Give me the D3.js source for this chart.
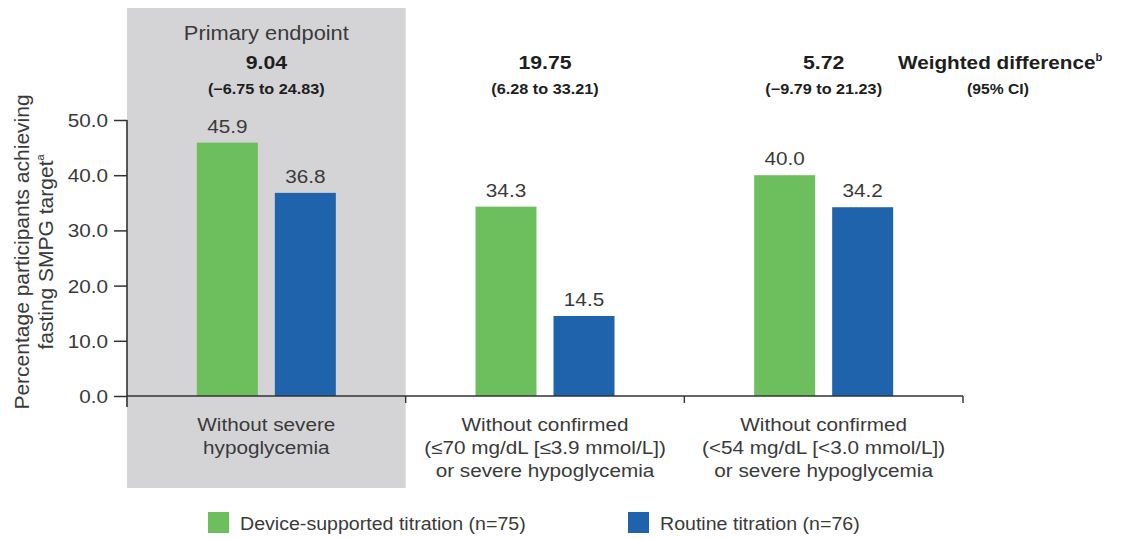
<!DOCTYPE html>
<html>
<head>
<meta charset="utf-8">
<script src="https://cdn.jsdelivr.net/npm/d3@7"></script>
<style>
  html, body { margin: 0; padding: 0; background: #fff; }
  svg { display: block; font-family: Arial, "Liberation Sans", Helvetica, sans-serif; }
</style>
</head>
<body>
<svg id="chart" width="1121" height="539"></svg>
<script>
// ---- data ----
const categories = [
  ["Without severe", "hypoglycemia"],
  ["Without confirmed", "(\u226470 mg/dL [\u22643.9 mmol/L])", "or severe hypoglycemia"],
  ["Without confirmed", "(<54 mg/dL [<3.0 mmol/L])", "or severe hypoglycemia"]
];
const categoryKeys = ["severe", "le70", "lt54"];
const seriesNames = ["Device-supported titration (n=75)", "Routine titration (n=76)"];
const deviceValues  = [45.9, 34.3, 40.0];
const routineValues = [36.8, 14.5, 34.2];
const weightedDiff  = ["9.04", "19.75", "5.72"];
const confInterval  = ["(\u22126.75 to 24.83)", "(6.28 to 33.21)", "(\u22129.79 to 21.23)"];
const yTicks = [0, 10, 20, 30, 40, 50];
const highlightIndex = 0;
const highlightTitle = "Primary endpoint";

// ---- setup ----
const colors = ["#6cbf5c", "#1f63ad"];
const svg = d3.select("#chart");
const sx = 1.12; // horizontal widening of the typeface

function label(g, x, y, str, opts = {}) {
  const t = g.append("text")
    .attr("transform", `translate(${x},${y}) scale(${opts.noStretch ? 1 : sx},1)`)
    .attr("text-anchor", opts.anchor || "middle")
    .attr("font-size", opts.size || 18)
    .attr("font-weight", opts.bold ? "bold" : "normal")
    .attr("fill", opts.fill || (opts.bold ? "#1e1e1e" : "#3a3a3a"))
    .text(str);
  return t;
}

const y = d3.scaleLinear().domain([0, 50]).range([396, 120]);
const x0 = d3.scaleBand().domain(categoryKeys).range([127, 963]).padding(0);
const bw = x0.bandwidth();
const x1 = d3.scaleBand().domain([0, 1]).range([bw / 2 - 69.5, bw / 2 + 69.5]).paddingInner(0.218);

// highlighted panel behind the primary endpoint
svg.append("rect")
  .attr("x", x0(categoryKeys[highlightIndex]))
  .attr("y", 8)
  .attr("width", bw)
  .attr("height", 480)
  .attr("fill", "#d4d4d6");

// bars
const groups = svg.append("g").selectAll("g")
  .data(categoryKeys)
  .join("g")
  .attr("transform", d => `translate(${x0(d)},0)`);

groups.each(function(key, i) {
  const g = d3.select(this);
  const vals = [deviceValues[i], routineValues[i]];
  vals.forEach((v, s) => {
    g.append("rect")
      .attr("x", x1(s))
      .attr("y", y(v))
      .attr("width", x1.bandwidth())
      .attr("height", y(0) - y(v))
      .attr("fill", colors[s]);
    label(g, x1(s) + x1.bandwidth() / 2, y(v) - 10, v.toFixed(1), { size: 18.5 });
  });
  // weighted difference heading
  if (i === highlightIndex) label(g, bw / 2, 40, highlightTitle, { size: 19.5 });
  label(g, bw / 2, 69, weightedDiff[i], { size: 19, bold: true });
  label(g, bw / 2, 94, confInterval[i], { size: 14.5, bold: true });
  // category label lines
  categories[i].forEach((line, k) => {
    label(g, bw / 2, 431 + k * 23, line, { size: 18.5 });
  });
});

// heading on the right
const wd = label(svg, 898, 69, "Weighted difference", { size: 18.5, bold: true, anchor: "start" });
wd.append("tspan").attr("font-size", 10).attr("dy", -8).text("b");
label(svg, 998, 94, "(95% CI)", { size: 14, bold: true });

// y axis
const yAxis = svg.append("g")
  .attr("transform", "translate(127,0)")
  .call(d3.axisLeft(y).tickValues(yTicks).tickFormat(d3.format(".1f")).tickSize(13).tickPadding(6));
yAxis.select(".domain").remove();
yAxis.selectAll(".tick line").attr("stroke", "#333").attr("stroke-width", 1.5);
yAxis.selectAll(".tick text")
  .attr("x", null).attr("dy", null)
  .attr("transform", `translate(-19,6.5) scale(${sx},1)`)
  .attr("font-size", 18.5)
  .attr("font-family", null)
  .attr("fill", "#3a3a3a");
svg.append("line")
  .attr("x1", 127).attr("x2", 127)
  .attr("y1", y(50)).attr("y2", 407)
  .attr("stroke", "#333").attr("stroke-width", 1.6);

// x axis baseline and category separators
svg.append("line")
  .attr("x1", 127).attr("x2", x0.range()[1])
  .attr("y1", y(0)).attr("y2", y(0))
  .attr("stroke", "#333").attr("stroke-width", 1.6);
svg.append("g").selectAll("line")
  .data(categoryKeys)
  .join("line")
  .attr("x1", d => x0(d) + bw).attr("x2", d => x0(d) + bw)
  .attr("y1", y(0)).attr("y2", y(0) + 7)
  .attr("stroke", "#333").attr("stroke-width", 1.4);

// y axis title
const yt = svg.append("text")
  .attr("transform", "translate(0,252) rotate(-90)")
  .attr("text-anchor", "middle")
  .attr("font-size", 21)
  .attr("fill", "#3a3a3a");
yt.append("tspan").attr("x", 0).attr("y", 29).text("Percentage participants achieving");
yt.append("tspan").attr("x", 0).attr("y", 53).text("fasting SMPG target")
  .append("tspan").attr("font-size", 11).attr("dy", -9).text("a");

// legend
const legendX = [208, 628];
const legend = svg.append("g").selectAll("g")
  .data(seriesNames)
  .join("g")
  .attr("transform", (d, i) => `translate(${legendX[i]},512)`);
legend.append("rect")
  .attr("width", 21).attr("height", 21)
  .attr("fill", (d, i) => colors[i]);
legend.each(function(d) {
  label(d3.select(this), 32, 18, d, { size: 17.5, anchor: "start" });
});
</script>
</body>
</html>
